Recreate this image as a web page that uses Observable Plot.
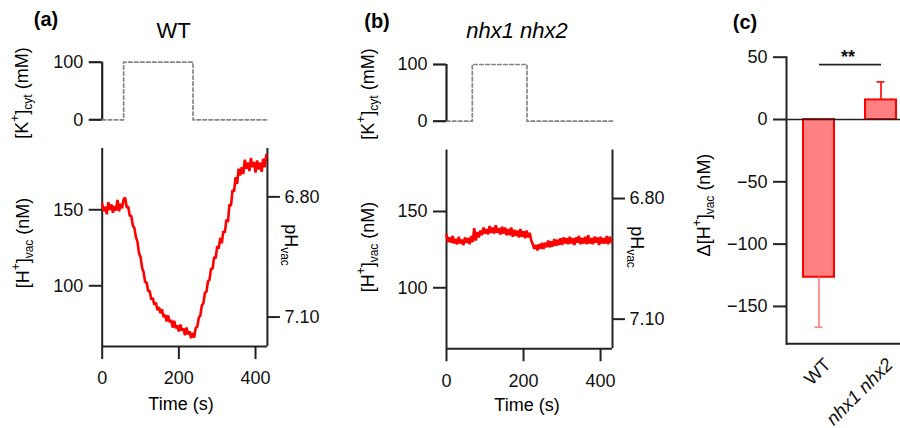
<!DOCTYPE html>
<html>
<head>
<meta charset="utf-8">
<script src="https://cdn.jsdelivr.net/npm/d3@7"></script>
<script src="https://cdn.jsdelivr.net/npm/@observablehq/plot@0.6"></script>
<style>
html,body{margin:0;padding:0;background:#fff;overflow:hidden}
#fig{position:relative;width:900px;height:428px;font-family:Arial,"Liberation Sans",Helvetica,sans-serif;color:#000;overflow:hidden}
#fig svg{position:absolute;left:0;top:0}
.lbl{position:absolute;white-space:nowrap;line-height:1;font-size:18px}
.ctr{transform:translate(-50%,-50%)}
.rotL{transform:translate(-50%,-50%) rotate(-90deg)}
.rotR{transform:translate(-50%,-50%) rotate(90deg)}
.sup{font-size:12px;position:relative;top:-0.75em}
.sub{font-size:12px;position:relative;top:0.35em}
.pl{font-weight:bold;font-size:20px}
.ttl{font-size:22px}
</style>
</head>
<body>
<div id="fig"></div>
<script>
// ---------- data ----------
const time = [0,4,8,12,16,20,24,28,32,36,40,44,48,52,56,60,64,68,72,76,80,84,88,92,96,100,104,108,112,116,120,124,128,132,136,140,144,148,152,156,160,164,168,172,176,180,184,188,192,196,200,204,208,212,216,220,224,228,232,236,240,244,248,252,256,260,264,268,272,276,280,284,288,292,296,300,304,308,312,316,320,324,328,332,336,340,344,348,352,356,360,364,368,372,376,380,384,388,392,396,400,404,408,412,416,420,424,428];
const hWT = [154,149,152,147,155,150,153.5,148,152.5,149.5,
  156.5,149,154,151,157,158,151.5,152,146,146,
  139.5,138,132,129,121.5,119,112,109,102.5,102,
  96.5,96.5,91,92,87.5,89,84,86,82,84.5,
  79.5,81,76.5,80.5,76,77.5,72.5,77,72,74,
  70,74.5,70.5,72,67.5,72.5,68,70,65.5,69,
  66,72.5,73,79,80.5,87,88.5,95.5,96,103,
  104,111.5,111,119,118,126,124.5,131.5,128,136,
  135,143.5,142,153.5,152.5,163,162,171.5,167,177,
  172.5,178,173.5,183,177,181,175.5,184,178,181.5,
  174.5,182.5,176.5,181,175,183.5,178,186];
const hNhx = [134.5,130,133,129.5,134,129,132,128.5,133.5,129,
  131.5,128,133,129.5,132.5,128.5,134,130,139,131,
  136.5,133,137.5,134.5,139.5,135.5,138.5,135,140.5,136,
  139.5,135.5,141,136,139,135,140,135.5,139.5,134.5,
  138.5,134.5,139.5,133.5,138,134,137.5,133,138.5,133.5,
  137,132.5,137.5,133,136,131,128.5,125.5,128,124.5,
  128.5,125.5,129.5,125.5,129.5,126.5,131,126.5,130.5,127,
  132,127.5,131.5,128,132.5,128,133,129,132.5,128.5,
  133.5,129,132.5,128,133,129.5,134,128.5,132.5,129,
  133.5,128.5,134.5,129,132.5,128.5,133.5,129.5,133,128,
  133.5,129,132.5,129,134,128.5,133.5,130];
const kTimeWT = [0, 56, 237, 431];
const kValWT  = [0, 100, 0, 0];
const kTimeNhx = [0, 67, 209, 431];
const kValNhx  = [0, 100, 0, 0];
const categories = ["WT", "nhx1 nhx2"];
const deltaH = [-126.6, 15.7];
const deltaErr = [40.1, 14.5];
const errColors = ["#ff8a8a", "#ff1a1a"];
const kTicks = [0, 100];
const hTicks = [100, 150];
const pHTicks = [6.80, 7.10];
const timeTicks = [0, 200, 400];
const deltaTicks = [-150, -100, -50, 0, 50];
const sigY = 44;

// ---------- helpers ----------
const FONT = 'Arial, "Liberation Sans", Helvetica, sans-serif';
const AX = "#222";
function base(l, r, t, b) {
  return {
    width: 900, height: 428,
    marginLeft: l, marginRight: 900 - r, marginTop: t, marginBottom: 428 - b,
    style: {background: "transparent", fontFamily: FONT, fontSize: "18px", color: "#111", overflow: "visible"}
  };
}
function kPlot(times, vals, box) {
  const data = times.map((t, i) => ({t, k: vals[i]}));
  return Plot.plot({
    ...base(...box),
    x: {domain: [0, 431], axis: null},
    y: {domain: [0, 100]},
    marks: [
      Plot.line(data, {x: "t", y: "k", curve: "step-after", stroke: "#858585", strokeWidth: 1.7, strokeDasharray: "3.5,2.5"}),
      Plot.ruleX([0], {y1: 0, y2: 100, stroke: AX, strokeWidth: 2.2}),
      Plot.axisY({ticks: kTicks, tickSize: 13, tickPadding: 6, stroke: AX, strokeWidth: 2.2, label: null})
    ]
  });
}
function hPlot(hs, box) {
  const data = time.map((t, i) => ({t, h: hs[i]}));
  return Plot.plot({
    ...base(...box),
    x: {domain: [0, 431]},
    y: {domain: [60, 190.3]},
    marks: [
      Plot.ruleX([0, 431], {y1: 60, y2: 190.3, stroke: AX, strokeWidth: 2}),
      Plot.ruleY([60], {stroke: AX, strokeWidth: 2}),
      Plot.line(data, {x: "t", y: "h", stroke: "#ff0000", strokeWidth: 2.6, strokeLinejoin: "miter"}),
      Plot.axisY({anchor: "left", ticks: hTicks, tickSize: 13, tickPadding: 6, stroke: AX, strokeWidth: 2, label: null}),
      Plot.axisY({anchor: "right", ticks: pHTicks.map(p => Math.pow(10, 9 - p)),
        tickFormat: h => (9 - Math.log10(h)).toFixed(2), tickSize: 12, tickPadding: 5, stroke: AX, strokeWidth: 2, label: null}),
      Plot.axisX({ticks: timeTicks, tickSize: 13, tickPadding: 12, stroke: AX, strokeWidth: 2, label: null})
    ]
  });
}
function deltaPlot() {
  const bars = categories.map((c, i) => ({
    c, v: deltaH[i], e: deltaH[i] + Math.sign(deltaH[i]) * deltaErr[i], col: errColors[i]
  }));
  const sig = [{a: categories[0], b: categories[1], y: sigY}];
  return Plot.plot({
    ...base(786, 900, 56.7, 343.3),
    x: {type: "band", domain: categories, range: [786, 913.5], paddingInner: 0.5, paddingOuter: 0.262, axis: null},
    y: {domain: [-180, 50]},
    color: {type: "identity"},
    marks: [
      Plot.barY(bars, {x: "c", y: "v", fill: "#ff8080", stroke: "#ff0000", strokeWidth: 2}),
      Plot.ruleX(bars, {x: "c", y1: "v", y2: "e", stroke: "col", strokeWidth: 1.8}),
      Plot.tickY(bars, {x: "c", y: "e", stroke: "col", strokeWidth: 1.8, insetLeft: 11.5, insetRight: 11.5}),
      Plot.ruleY([0], {stroke: AX, strokeWidth: 1.6}),
      Plot.ruleY([-180], {stroke: AX, strokeWidth: 2}),
      Plot.frame({anchor: "left", stroke: AX, strokeWidth: 2}),
      Plot.axisY({ticks: deltaTicks, tickFormat: d3.format("d"), tickSize: 13, tickPadding: 6, stroke: AX, strokeWidth: 2, label: null}),
      Plot.link(sig, {x1: "a", x2: "b", y1: "y", y2: "y", stroke: AX, strokeWidth: 1.8}),
      Plot.text(sig, {x: "a", y: "y", text: () => "**", dx: 29, dy: -2, lineAnchor: "bottom", fontSize: 18, fontWeight: "bold"}),
      Plot.text([categories[0]], {x: d => d, text: d => d, frameAnchor: "bottom", rotate: -45, textAnchor: "end", dx: 13, dy: 22, fontSize: 18.5}),
      Plot.text([categories[1]], {x: d => d, text: d => d, frameAnchor: "bottom", rotate: -45, textAnchor: "end", dx: 13, dy: 22, fontSize: 18.5, fontStyle: "italic"})
    ]
  });
}

const fig = document.getElementById("fig");
fig.append(kPlot(kTimeWT, kValWT, [101.7, 266.9, 61.7, 119.3]));
fig.append(hPlot(hWT, [101.7, 266.9, 148, 346.1]));
fig.append(kPlot(kTimeNhx, kValNhx, [446, 612, 64, 120.7]));
fig.append(hPlot(hNhx, [446, 612, 149.5, 348.3]));
fig.append(deltaPlot());

// ---------- HTML text ----------
const K = '[K<span class="sup">+</span>]<span class="sub">cyt</span> (mM)';
const H = '[H<span class="sup">+</span>]<span class="sub">vac</span> (nM)';
const PH = 'pH<span class="sub">vac</span>';
const labels = [
  ["pl ctr", 46, 19, "(a)"],
  ["ttl ctr", 173.5, 30.5, "WT"],
  ["pl ctr", 377, 21, "(b)"],
  ["ttl ctr", 517, 31, "<i>nhx1 nhx2</i>"],
  ["pl ctr", 745, 22, "(c)"],
  ["rotL", 22, 93, K],
  ["rotL", 23, 243, H],
  ["rotR", 291, 245, PH],
  ["ctr", 181, 403.5, "Time (s)"],
  ["rotL", 368, 94, K],
  ["rotL", 368, 247, H],
  ["rotR", 637, 247, PH],
  ["ctr", 527, 404.5, "Time (s)"],
  ["rotL", 704, 205, "Δ" + H]
];
for (const [cls, x, y, html] of labels) {
  const d = document.createElement("div");
  d.className = "lbl " + cls;
  d.style.left = x + "px";
  d.style.top = y + "px";
  d.innerHTML = html;
  fig.append(d);
}
</script>
</body>
</html>
